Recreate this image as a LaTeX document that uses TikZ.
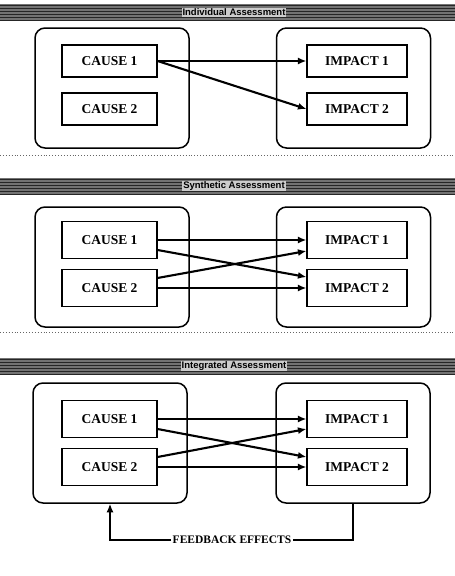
\documentclass[tikz,border=0pt]{standalone}
\usepackage{fontspec}
\setmainfont{Liberation Serif}
\setsansfont{Liberation Sans}
\usetikzlibrary{arrows.meta,patterns}
\begin{document}
\begin{tikzpicture}[x=1pt,y=-1pt,
  outer/.style={draw, line width=1.5pt, rounded corners=10pt, minimum width=154pt, minimum height=120pt, inner sep=0pt},
  inner/.style={draw, line width=1.1pt, fill=white, minimum width=95pt, minimum height=32pt, inner sep=0pt, font=\bfseries\fontsize{13.5}{14}\selectfont},
  impact/.style={inner, minimum width=100pt},
  tall/.style={minimum height=37pt},
  arr/.style={line width=2.1pt, -{Latex[length=8.5pt,width=7pt]}},
  band/.style={fill=black!55, draw=none},
  bandlines/.style={pattern=horizontal lines, pattern color=black!85},
  title/.style={fill=white!80!black, inner sep=1pt, font=\sffamily\bfseries\fontsize{9.5}{10}\selectfont},
  sep/.style={draw=black!60, line width=0.9pt, dotted},
  fbtext/.style={fill=white, inner sep=1.5pt, font=\bfseries\fontsize{11.5}{12}\selectfont}
]
\useasboundingbox (0,0) rectangle (455,576);
\fill[white] (0,0) rectangle (455,576);

% ---------- headers and separators ----------
\fill[band] (0,4) rectangle (455,21);
\fill[bandlines] (0,4) rectangle (455,21);
\node[title] (h1) at (234,12.5) {Individual Assessment};
\draw[sep] (0,155) -- (455,155);

\fill[band] (0,178) rectangle (455,194);
\fill[bandlines] (0,178) rectangle (455,194);
\node[title] (h2) at (234,186) {Synthetic Assessment};
\draw[sep] (0,332) -- (455,332);

\fill[band] (0,358) rectangle (455,374);
\fill[bandlines] (0,358) rectangle (455,374);
\node[title] (h3) at (234,366) {Integrated Assessment};

% ---------- section 1 ----------
\node[outer] (L1) at (112,88) {};
\node[outer] (R1) at (353.5,88) {};
\node[inner] (c11) at (109.5,61) {CAUSE 1};
\node[inner] (c12) at (109.5,109) {CAUSE 2};
\node[impact] (i11) at (357,61) {IMPACT 1};
\node[impact] (i12) at (357,109) {IMPACT 2};
\draw[arr] (c11.east) -- (i11.west);
\draw[arr] (c11.east) -- (i12.west);

% ---------- section 2 ----------
\node[outer] (L2) at (112,267) {};
\node[outer] (R2) at (353.5,267) {};
\node[inner,tall] (c21) at (109.5,240) {CAUSE 1};
\node[inner,tall] (c22) at (109.5,288) {CAUSE 2};
\node[impact,tall] (i21) at (357,240) {IMPACT 1};
\node[impact,tall] (i22) at (357,288) {IMPACT 2};
\draw[arr] (c21.east) -- (i21.west);
\draw[arr] (c22.east) -- (i22.west);
\draw[arr] ([yshift=-10pt]c21.east) -- ([yshift=11pt]i22.west);
\draw[arr] ([yshift=10pt]c22.east) -- ([yshift=-11pt]i21.west);

% ---------- section 3 ----------
\node[outer] (L3) at (110,443) {};
\node[outer] (R3) at (353,443) {};
\node[inner,tall] (c31) at (109.5,419) {CAUSE 1};
\node[inner,tall] (c32) at (109.5,467) {CAUSE 2};
\node[impact,tall] (i31) at (357,419) {IMPACT 1};
\node[impact,tall] (i32) at (357,467) {IMPACT 2};
\draw[arr] (c31.east) -- (i31.west);
\draw[arr] (c32.east) -- (i32.west);
\draw[arr] ([yshift=-10pt]c31.east) -- ([yshift=10pt]i32.west);
\draw[arr] ([yshift=10pt]c32.east) -- ([yshift=-10pt]i31.west);

% ---------- feedback ----------
\node[fbtext] (fb) at (232,540) {FEEDBACK EFFECTS};
\draw[line width=1.5pt] (R3.south) |- (fb.east);
\draw[line width=1.5pt, -{Latex[length=8.5pt,width=7pt]}] (fb.west) -| (L3.south);
\end{tikzpicture}
\end{document}
